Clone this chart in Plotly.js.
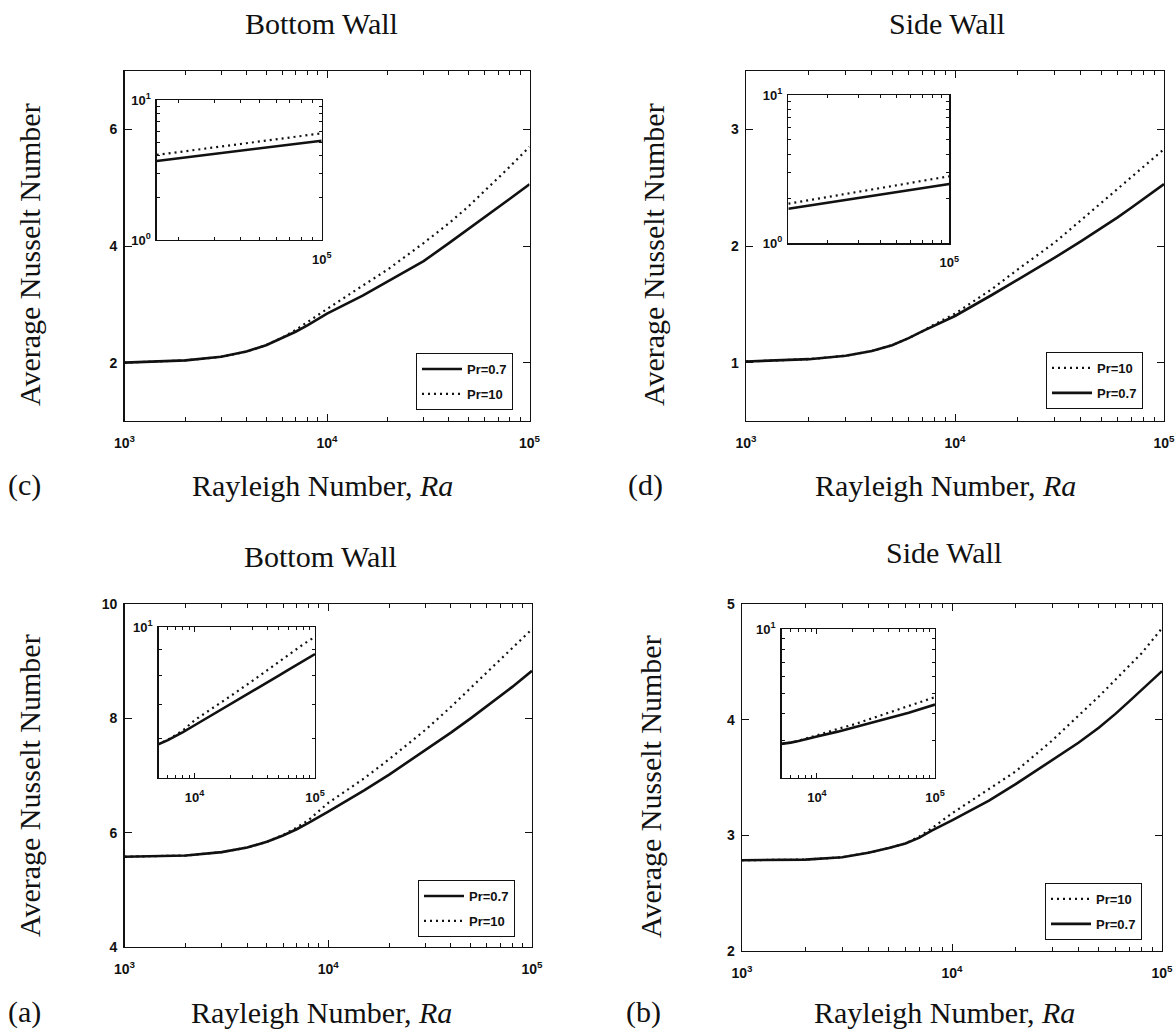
<!DOCTYPE html>
<html>
<head>
<meta charset="utf-8">
<script src="https://cdn.plot.ly/plotly-3.0.1.min.js"></script>
<style>
  html, body { margin: 0; padding: 0; background: #fff; }
  #chart { width: 1175px; height: 1034px; }
</style>
</head>
<body>
<div id="chart"></div>
<script>
// ---------------- data ----------------
const ra = [1000, 2000, 3000, 4000, 5000, 6000, 7000, 8000, 10000, 15000, 20000, 30000, 40000, 50000, 60000, 70000, 80000, 100000];

// (c) Bottom Wall (upper row)
const nuC_Pr07 = [2.00, 2.04, 2.10, 2.19, 2.30, 2.42, 2.53, 2.64, 2.84, 3.15, 3.39, 3.74, 4.05, 4.29, 4.49, 4.66, 4.81, 5.06];
const nuC_Pr10 = [2.00, 2.04, 2.10, 2.19, 2.30, 2.43, 2.56, 2.69, 2.92, 3.32, 3.60, 4.05, 4.39, 4.68, 4.94, 5.16, 5.36, 5.70];
// (d) Side Wall (upper row)
const nuD_Pr07 = [1.01, 1.03, 1.06, 1.10, 1.15, 1.21, 1.27, 1.32, 1.40, 1.58, 1.71, 1.90, 2.04, 2.15, 2.245, 2.33, 2.405, 2.53];
const nuD_Pr10 = [1.01, 1.03, 1.06, 1.10, 1.15, 1.21, 1.27, 1.33, 1.42, 1.63, 1.80, 2.03, 2.22, 2.37, 2.49, 2.59, 2.68, 2.83];
// (a) Bottom Wall (lower row)
const nuA_Pr07 = [5.58, 5.60, 5.66, 5.74, 5.84, 5.95, 6.06, 6.17, 6.37, 6.74, 7.02, 7.44, 7.75, 8.00, 8.21, 8.39, 8.55, 8.83];
const nuA_Pr10 = [5.58, 5.60, 5.66, 5.74, 5.84, 5.96, 6.09, 6.22, 6.52, 6.95, 7.29, 7.80, 8.20, 8.53, 8.81, 9.04, 9.24, 9.56];
// (b) Side Wall (lower row)
const nuB_Pr07 = [2.785, 2.79, 2.81, 2.85, 2.89, 2.93, 2.98, 3.04, 3.13, 3.30, 3.44, 3.65, 3.80, 3.93, 4.05, 4.16, 4.26, 4.42];
const nuB_Pr10 = [2.785, 2.79, 2.81, 2.85, 2.89, 2.93, 2.99, 3.06, 3.19, 3.40, 3.55, 3.82, 4.03, 4.20, 4.345, 4.465, 4.575, 4.79];

// insets of (c) and (d) (log-log)
const insetRaC = [15700, 100000];
const insetC_Pr07 = [3.67, 5.12];
const insetC_Pr10 = [4.05, 5.78];
const insetRaD = [11900, 100000];
const insetD_Pr07 = [1.71, 2.51];
const insetD_Pr10 = [1.85, 2.83];

// tick labels
const mainXTicks = [1000, 10000, 100000];
const mainXTickText = ['10<sup>3</sup>', '10<sup>4</sup>', '10<sup>5</sup>'];
const minorXTicks = [2000, 3000, 4000, 5000, 6000, 7000, 8000, 9000, 20000, 30000, 40000, 50000, 60000, 70000, 80000, 90000];
const legendNames = ['Pr=0.7', 'Pr=10'];
const titles = ['Bottom Wall', 'Side Wall', 'Bottom Wall', 'Side Wall'];
const panelLabels = ['(c)', '(d)', '(a)', '(b)'];
const xTitle = 'Rayleigh Number, <i>Ra</i>';
const yTitle = 'Average Nusselt Number';

// ---------------- helpers ----------------
const W = 1175, H = 1034;
const px = v => v / W;
const py = v => 1 - v / H;
const INK = '#111';
const tickFont = { family: 'Liberation Sans, Arial, sans-serif', size: 14, color: INK, weight: 'bold' };
const insetFont = { family: 'Liberation Sans, Arial, sans-serif', size: 13, color: INK, weight: 'bold' };

function solid(x, y, xa, ya, name, legend, show, grp) {
  return { x: x, y: y, xaxis: xa, yaxis: ya, type: 'scatter', mode: 'lines', name: name,
           legend: legend, showlegend: show, legendgroup: grp, line: { color: INK, width: 2.6 } };
}
function dotted(x, y, xa, ya, name, legend, show, grp) {
  return { x: x, y: y, xaxis: xa, yaxis: ya, type: 'scatter', mode: 'lines', name: name,
           legend: legend, showlegend: show, legendgroup: grp, line: { color: INK, width: 2.2, dash: '2px,4px' } };
}
function dummy(xa, ya) {
  return { x: [1000], y: [null], xaxis: xa, yaxis: ya, type: 'scatter', mode: 'lines', showlegend: false, hoverinfo: 'skip' };
}

const baseAxis = { ticks: 'inside', tickwidth: 1, tickcolor: INK, mirror: 'ticks',
                   showline: true, linecolor: INK, linewidth: 1.3, showgrid: false, zeroline: false,
                   ticklabeloverflow: 'allow' };

function mainX(l, r, anchor) {
  return Object.assign({}, baseAxis, { type: 'log', range: [3, 5], domain: [px(l), px(r)], anchor: anchor,
           tickmode: 'array', tickvals: mainXTicks, ticktext: mainXTickText, ticklen: 7,
           tickfont: tickFont, ticklabelstandoff: 9 });
}
function mainY(t, b, anchor, range, tv) {
  return Object.assign({}, baseAxis, { range: range, domain: [py(b), py(t)], anchor: anchor,
           tickmode: 'array', tickvals: tv, ticklen: 7, tickfont: tickFont, ticklabelstandoff: 3 });
}
function insetX(l, r, anchor, range, tv, tt) {
  return Object.assign({}, baseAxis, { type: 'log', range: range, domain: [px(l), px(r)], anchor: anchor,
           tickmode: 'array', tickvals: tv, ticktext: tt, ticklen: 5,
           tickfont: insetFont, ticklabelstandoff: 7 });
}
function insetY(t, b, anchor, range, tv, tt) {
  return Object.assign({}, baseAxis, { type: 'log', range: range, domain: [py(b), py(t)], anchor: anchor,
           tickmode: 'array', tickvals: tv, ticktext: tt, ticklen: 5,
           tickfont: insetFont, ticklabelstandoff: 2 });
}
// overlay axis used only to draw the short minor ticks
function minorAxis(over, anchor, type, range, vals, len) {
  return Object.assign({}, baseAxis, { type: type, range: range, overlaying: over, anchor: anchor,
           tickmode: 'array', tickvals: vals, ticklen: len, showticklabels: false });
}
function legendAt(l, t) {
  return { x: px(l), y: py(t), xanchor: 'left', yanchor: 'top', bgcolor: '#fff',
           bordercolor: INK, borderwidth: 1, itemwidth: 40, tracegroupgap: 5, traceorder: 'grouped',
           font: { family: 'Liberation Sans, Arial, sans-serif', size: 13, color: INK, weight: 'bold' } };
}

// ---------------- traces ----------------
const traces = [
  // (c)
  solid(ra, nuC_Pr07, 'x', 'y', legendNames[0], 'legend', true, 'c1'),
  dotted(ra, nuC_Pr10, 'x', 'y', legendNames[1], 'legend', true, 'c2'),
  // (d) legend order: Pr=10 then Pr=0.7
  dotted(ra, nuD_Pr10, 'x2', 'y2', legendNames[1], 'legend2', true, 'd1'),
  solid(ra, nuD_Pr07, 'x2', 'y2', legendNames[0], 'legend2', true, 'd2'),
  // (a)
  solid(ra, nuA_Pr07, 'x3', 'y3', legendNames[0], 'legend3', true, 'a1'),
  dotted(ra, nuA_Pr10, 'x3', 'y3', legendNames[1], 'legend3', true, 'a2'),
  // (b)
  dotted(ra, nuB_Pr10, 'x4', 'y4', legendNames[1], 'legend4', true, 'b1'),
  solid(ra, nuB_Pr07, 'x4', 'y4', legendNames[0], 'legend4', true, 'b2'),
  // insets
  dotted(insetRaC, insetC_Pr10, 'x5', 'y5', legendNames[1], 'legend', false, 'i5a'),
  solid(insetRaC, insetC_Pr07, 'x5', 'y5', legendNames[0], 'legend', false, 'i5b'),
  dotted(insetRaD, insetD_Pr10, 'x6', 'y6', legendNames[1], 'legend', false, 'i6a'),
  solid(insetRaD, insetD_Pr07, 'x6', 'y6', legendNames[0], 'legend', false, 'i6b'),
  dotted(ra, nuA_Pr10, 'x7', 'y7', legendNames[1], 'legend', false, 'i7a'),
  solid(ra, nuA_Pr07, 'x7', 'y7', legendNames[0], 'legend', false, 'i7b'),
  dotted(ra, nuB_Pr10, 'x8', 'y8', legendNames[1], 'legend', false, 'i8a'),
  solid(ra, nuB_Pr07, 'x8', 'y8', legendNames[0], 'legend', false, 'i8b'),
  // minor-tick overlay subplots
  dummy('x9', 'y'), dummy('x10', 'y2'), dummy('x11', 'y3'), dummy('x12', 'y4'),
  dummy('x13', 'y5'), dummy('x14', 'y6'), dummy('x15', 'y7'), dummy('x16', 'y8'),
  dummy('x5', 'y9'), dummy('x6', 'y10'), dummy('x7', 'y11'), dummy('x8', 'y12')
];

// ---------------- annotations ----------------
const serif = { family: 'Liberation Serif, Times New Roman, serif', size: 30, color: INK };
function ann(text, x, y, angle) {
  return { text: text, x: px(x), y: py(y), xref: 'paper', yref: 'paper', showarrow: false,
           xanchor: 'center', yanchor: 'middle', font: serif, textangle: angle || 0 };
}
const annotations = [
  ann(titles[0], 321, 24), ann(titles[1], 947, 24), ann(titles[2], 320, 556), ann(titles[3], 944, 552),
  ann(yTitle, 29, 255, -90), ann(yTitle, 653, 255, -90), ann(yTitle, 29, 786, -90), ann(yTitle, 650, 787, -90),
  ann(xTitle, 323, 485), ann(xTitle, 945, 485), ann(xTitle, 321, 1012), ann(xTitle, 944, 1012),
  ann(panelLabels[0], 24, 485), ann(panelLabels[1], 646, 485), ann(panelLabels[2], 24, 1012), ann(panelLabels[3], 643, 1012)
];

const decade = ['10<sup>0</sup>', '10<sup>1</sup>'];
const insetMinorX = [20000, 30000, 40000, 50000, 60000, 70000, 80000, 90000];
const insetMinorX2 = [6000, 7000, 8000, 9000, 20000, 30000, 40000, 50000, 60000, 70000, 80000, 90000];
const rC = [4.196, 5], rD = [4.075, 5], rAB = [3.7, 5];
const layout = {
  width: W, height: H, margin: { l: 0, r: 0, t: 0, b: 0 },
  paper_bgcolor: '#fff', plot_bgcolor: '#fff',
  xaxis: mainX(124.5, 529.5, 'y'),  yaxis: mainY(71, 421, 'x', [1, 7], [2, 4, 6]),
  xaxis2: mainX(746, 1164, 'y2'),   yaxis2: mainY(71, 421, 'x2', [0.5, 3.5], [1, 2, 3]),
  xaxis3: mainX(124.5, 532, 'y3'),  yaxis3: mainY(604, 947, 'x3', [4, 10], [4, 6, 8, 10]),
  xaxis4: mainX(742, 1162, 'y4'),   yaxis4: mainY(604, 951, 'x4', [2, 5], [2, 3, 4, 5]),
  xaxis5: insetX(156.7, 321.7, 'y5', rC, [100000], ['10<sup>5</sup>']),
  yaxis5: insetY(100, 240, 'x5', [0, 1], [1, 10], decade),
  xaxis6: insetX(788.3, 949.3, 'y6', rD, [100000], ['10<sup>5</sup>']),
  yaxis6: insetY(95, 243.3, 'x6', [0, 1], [1, 10], decade),
  xaxis7: insetX(158.5, 315, 'y7', rAB, [10000, 100000], ['10<sup>4</sup>', '10<sup>5</sup>']),
  yaxis7: insetY(627, 778, 'x7', [Math.log10(5), 1], [10], ['10<sup>1</sup>']),
  xaxis8: insetX(781.5, 935, 'y8', rAB, [10000, 100000], ['10<sup>4</sup>', '10<sup>5</sup>']),
  yaxis8: insetY(629, 778, 'x8', [Math.log10(2), 1], [10], ['10<sup>1</sup>']),
  // minor ticks
  xaxis9:  minorAxis('x',  'y',  'log', [3, 5], minorXTicks, 4),
  xaxis10: minorAxis('x2', 'y2', 'log', [3, 5], minorXTicks, 4),
  xaxis11: minorAxis('x3', 'y3', 'log', [3, 5], minorXTicks, 4),
  xaxis12: minorAxis('x4', 'y4', 'log', [3, 5], minorXTicks, 4),
  xaxis13: minorAxis('x5', 'y5', 'log', rC, insetMinorX, 3),
  xaxis14: minorAxis('x6', 'y6', 'log', rD, insetMinorX, 3),
  xaxis15: minorAxis('x7', 'y7', 'log', rAB, insetMinorX2, 3),
  xaxis16: minorAxis('x8', 'y8', 'log', rAB, insetMinorX2, 3),
  yaxis9:  minorAxis('y5', 'x5', 'log', [0, 1], [2, 3, 4, 5, 6, 7, 8, 9], 3),
  yaxis10: minorAxis('y6', 'x6', 'log', [0, 1], [2, 3, 4, 5, 6, 7, 8, 9], 3),
  yaxis11: minorAxis('y7', 'x7', 'log', [Math.log10(5), 1], [6, 7, 8, 9], 3),
  yaxis12: minorAxis('y8', 'x8', 'log', [Math.log10(2), 1], [3, 4, 5, 6, 7, 8, 9], 3),
  legend: legendAt(416, 353),
  legend2: legendAt(1046, 352),
  legend3: legendAt(418, 880),
  legend4: legendAt(1045, 883),
  annotations: annotations,
  showlegend: true
};

Plotly.newPlot('chart', traces, layout, { staticPlot: true, displayModeBar: false });
</script>
</body>
</html>
